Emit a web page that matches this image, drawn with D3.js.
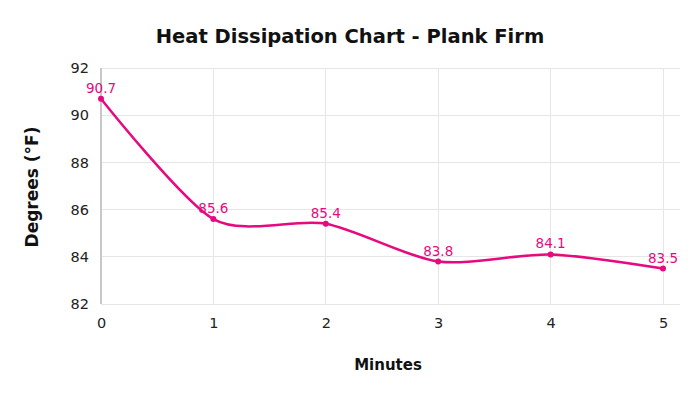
<!DOCTYPE html>
<html><head><meta charset="utf-8">
<script src="https://cdn.jsdelivr.net/npm/d3@7"></script>
<style>body{margin:0;background:#fff}svg{display:block}text{font-family:"DejaVu Sans",Verdana,sans-serif}</style>
</head><body>
<svg id="c" width="700" height="394"></svg>
<script>
const minutes = [0, 1, 2, 3, 4, 5];
const degrees = [90.7, 85.6, 85.4, 83.8, 84.1, 83.5];
const yTicks = [82, 84, 86, 88, 90, 92];
const title = "Heat Dissipation Chart - Plank Firm";
const xTitle = "Minutes";
const yTitle = "Degrees (°F)";

const svg = d3.select("#c");
const color = "#e6097f";
const x = d3.scaleLinear().domain([0, 5]).range([101, 663]);
const y = d3.scaleLinear().domain([82, 92]).range([304, 68]);
const right = 680;

// grid
svg.append("g").selectAll("line").data(yTicks).join("line")
  .attr("x1", x(0)).attr("x2", right).attr("y1", d => y(d)).attr("y2", d => y(d))
  .attr("stroke", "#e6e6e6").attr("stroke-width", 1).attr("shape-rendering","crispEdges");
svg.append("g").selectAll("line").data(minutes.slice(1)).join("line")
  .attr("x1", d => x(d)).attr("x2", d => x(d)).attr("y1", y(92)).attr("y2", y(82))
  .attr("stroke", "#e6e6e6").attr("stroke-width", 1).attr("shape-rendering","crispEdges");
// y axis line
svg.append("line").attr("x1", x(0)).attr("x2", x(0)).attr("y1", y(92)).attr("y2", y(82))
  .attr("stroke", "#c8c8c8").attr("stroke-width", 2);

// axes via d3
const yAxis = svg.append("g").attr("transform", `translate(${x(0)-6},0)`)
  .call(d3.axisLeft(y).tickValues(yTicks).tickSize(0).tickPadding(6));
yAxis.select(".domain").remove();
yAxis.selectAll("text").attr("font-size", 14.5).attr("fill", "#222");
const xAxis = svg.append("g").attr("transform", `translate(0,${y(82)+10})`)
  .call(d3.axisBottom(x).tickValues(minutes).tickFormat(d3.format("d")).tickSize(0).tickPadding(4));
xAxis.select(".domain").remove();
xAxis.selectAll("text").attr("font-size", 14.5).attr("fill", "#222");

// line
const pts = minutes.map((m, i) => [m, degrees[i]]);
svg.append("path").datum(pts)
  .attr("d", d3.line().x(d => x(d[0])).y(d => y(d[1])).curve(d3.curveCardinal.tension(0.2)))
  .attr("fill", "none").attr("stroke", color).attr("stroke-width", 2.5);
svg.append("g").selectAll("circle").data(pts).join("circle")
  .attr("cx", d => x(d[0])).attr("cy", d => y(d[1])).attr("r", 3).attr("fill", color);
svg.append("g").selectAll("text").data(pts).join("text")
  .attr("x", d => x(d[0])).attr("y", d => y(d[1]) - 6)
  .attr("text-anchor", "middle").attr("font-size", 13.5).attr("fill", color)
  .text(d => d[1].toFixed(1));

// titles
svg.append("text").attr("x", 350).attr("y", 43).attr("text-anchor", "middle")
  .attr("font-size", 19.5).attr("font-weight", "bold").attr("fill", "#111").text(title);
svg.append("text").attr("x", 388).attr("y", 370).attr("text-anchor", "middle")
  .attr("font-size", 15).attr("font-weight", "bold").attr("fill", "#111").text(xTitle);
svg.append("text").attr("transform", `translate(38,187) rotate(-90)`).attr("text-anchor", "middle")
  .attr("font-size", 17).attr("font-weight", "bold").attr("fill", "#111").text(yTitle);
</script>
</body></html>
